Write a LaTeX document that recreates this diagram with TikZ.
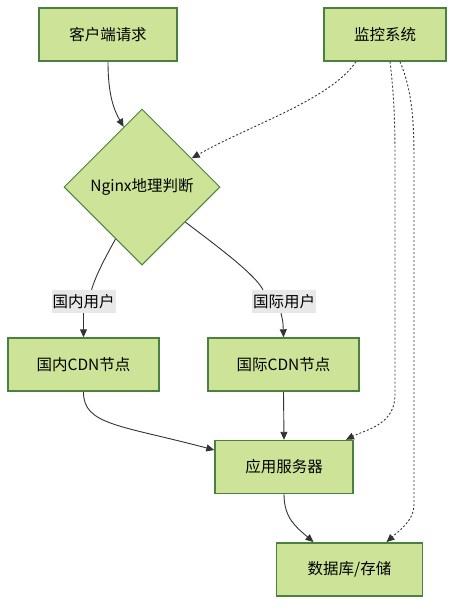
\documentclass[tikz,border=0pt]{standalone}
\usepackage{fontspec}
\setmainfont{Noto Sans CJK SC}
\usetikzlibrary{shapes.geometric,arrows.meta,calc,backgrounds}
\definecolor{nodefill}{HTML}{CDE498}
\definecolor{nodeline}{HTML}{4A8040}
\definecolor{edgecol}{HTML}{333333}
\definecolor{lblbg}{HTML}{E8E8E8}
\begin{document}
\begin{tikzpicture}[x=1pt,y=-1pt,
  box/.style={draw=nodeline,fill=nodefill,line width=1.4pt,minimum height=53pt,inner sep=0pt,font=\fontsize{15.5}{18}\selectfont},
  dia/.style={diamond,draw=nodeline,fill=nodefill,line width=1pt,minimum width=156pt,minimum height=156pt,inner sep=0pt,font=\fontsize{15.5}{18}\selectfont},
  elabel/.style={fill=lblbg,inner xsep=1pt,inner ysep=0pt,minimum height=23pt,font=\fontsize{15.5}{18}\selectfont},
  conn/.style={draw=edgecol,line width=0.9pt,-{Triangle[length=8pt,width=7pt]}},
  plain/.style={draw=edgecol,line width=0.9pt},
  dotconn/.style={draw=edgecol,line width=0.9pt,dash pattern=on 2pt off 2pt,-{Triangle[length=8pt,width=7pt]}}]
\useasboundingbox (0,0) rectangle (462,614);
\node[box,minimum width=138pt] (cli) at (108,34.5) {客户端请求};
\node[box,minimum width=122pt] (mon) at (385,34.5) {监控系统};
\node[dia] (ng) at (142,187) {Nginx地理判断};
\node[elabel] (l1) at (83.5,301.5) {国内用户};
\node[elabel] (l2) at (284,301.5) {国际用户};
\node[box,minimum width=151pt] (cdn1) at (83.5,364.5) {国内CDN节点};
\node[box,minimum width=151pt] (cdn2) at (283.5,364.5) {国际CDN节点};
\node[box,minimum width=138pt] (app) at (284,467) {应用服务器};
\node[box,minimum width=146pt] (db) at (349.5,569.3) {数据库/存储};
\begin{scope}[on background layer]
\fill[white] (0,0) rectangle (462,614);
\draw[conn] (cli.south) .. controls (108,95) and (114,110) .. (ng.107);
\draw[dotconn] ($(mon.south)+(-29,0)$) .. controls (330,100) and (250,125) .. (ng.30);
\draw[dotconn] ($(mon.south)+(5,0)$) .. controls (394,95) and (395,120) .. (395,160) -- (395,395) .. controls (395,425) and (365,430) .. ($(app.north)+(62,0)$);
\draw[dotconn] ($(mon.south)+(15,0)$) .. controls (412,90) and (414,120) .. (414,160) -- (414,505) .. controls (414,520) and (400,530) .. ($(db.north)+(37,0)$);
\draw[plain] (ng.243) .. controls (105,258) and (96,275) .. ($(l1.north)+(8,0)$);
\draw[conn] (l1.south) -- (cdn1.north);
\draw[plain] (ng.321) .. controls (225,252) and (255,275) .. ($(l2.north)+(-21,0)$);
\draw[conn] ($(l2.south)+(-3,0)$) .. controls (283,322) .. (cdn2.north);
\draw[conn] (cdn1.south) .. controls (83,425) and (120,425) .. ($(app.west)+(0,-17)$);
\draw[conn] (cdn2.south) -- (app.north);
\draw[conn] (app.south) .. controls (284,518) and (296,527) .. ($(db.north)+(-36,0)$);
\end{scope}
\end{tikzpicture}
\end{document}
